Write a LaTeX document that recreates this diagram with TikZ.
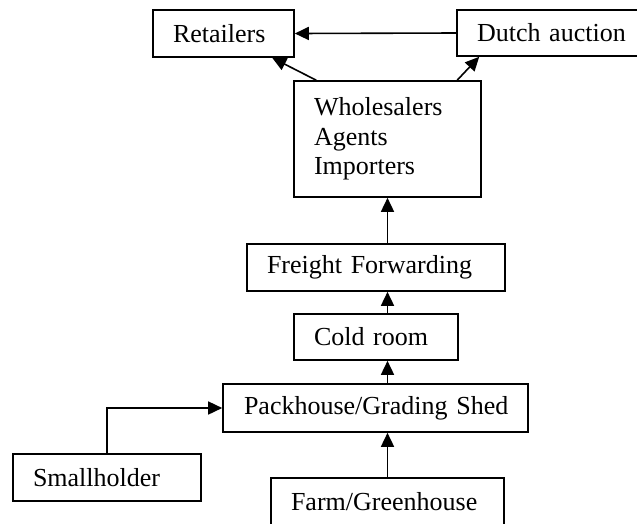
\documentclass[tikz,border=0pt]{standalone}
\usepackage{fontspec}
\setmainfont{Liberation Serif}
\usetikzlibrary{arrows.meta,calc}
\begin{document}
\begin{tikzpicture}[x=1pt,y=-1pt,
  box/.style={draw,line width=1.6pt,rectangle,inner ysep=0pt,inner xsep=20pt,align=left,
    font=\fontsize{26}{29.5}\selectfont,anchor=center},
  arr/.style={line width=1.6pt,-{Triangle[length=14pt,width=13pt]}}]
\useasboundingbox (0,0) rectangle (637,523);
\node[box,minimum width=141pt,minimum height=47pt,text width=101pt] (ret) at (223.5,33.5) {Retailers};
\node[box,minimum width=203pt,minimum height=46pt,text width=163pt] (da) at (558.5,33) {Dutch auction};
\node[box,minimum width=187pt,minimum height=116pt,text width=147pt] (wh) at (387.5,139) {Wholesalers\\Agents\\Importers};
\node[box,minimum width=258pt,minimum height=47pt,text width=218pt] (ff) at (376,267.5) {Freight Forwarding};
\node[box,minimum width=164pt,minimum height=46pt,text width=124pt] (cr) at (376,337) {Cold room};
\node[box,minimum width=305pt,minimum height=48pt,text width=263pt,inner xsep=21pt] (ph) at (375.5,408) {\mbox{Packhouse/Grading Shed}\hss};
\node[box,minimum width=188pt,minimum height=47pt,text width=148pt] (sh) at (107,477.5) {Smallholder};
\node[box,minimum width=233pt,minimum height=47pt,text width=193pt] (fg) at (387.5,501.5) {Farm/Greenhouse};
\draw[arr] (da.west) -- (ret.east);
\draw[arr] ($(wh.north west)+(23,0)$) -- ($(ret.south west)+(120,0)$);
\draw[arr] ($(wh.north west)+(164,0)$) -- ($(da.south west)+(23,0)$);
\draw[arr] (ff.north -| wh.south) -- (wh.south);
\draw[arr] (cr.north -| wh.south) -- (ff.south -| wh.south);
\draw[arr] (ph.north -| wh.south) -- (cr.south -| wh.south);
\draw[arr] (fg.north) -- (ph.south -| fg.north);
\draw[arr] (sh.north) |- (ph.west);
\end{tikzpicture}
\end{document}
